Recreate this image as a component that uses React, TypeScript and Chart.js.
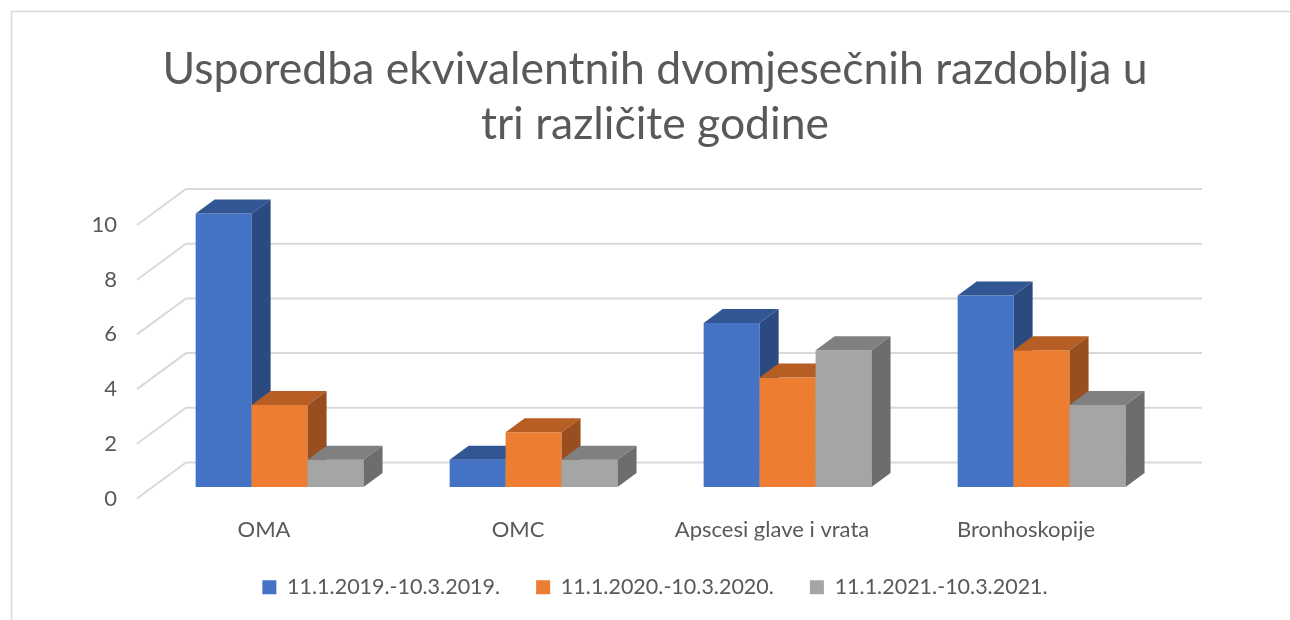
import React, { useEffect, useRef } from "react";
import { Chart, registerables } from "chart.js";

Chart.register(...registerables);

const titleLines = ["Usporedba ekvivalentnih dvomjesečnih razdoblja u", "tri različite godine"];
const categories = ["OMA", "OMC", "Apscesi glave i vrata", "Bronhoskopije"];
const seriesLabels = ["11.1.2019.-10.3.2019.", "11.1.2020.-10.3.2020.", "11.1.2021.-10.3.2021."];
const values2019 = [10, 1, 6, 7];
const values2020 = [3, 2, 4, 5];
const values2021 = [1, 1, 5, 3];
const yTickValues = [0, 2, 4, 6, 8, 10];

const frontColors = ["#4472C4", "#ED7D31", "#A5A5A5"];
const topColors = ["#325694", "#B65E23", "#808080"];
const sideColors = ["#2B4A80", "#984E1E", "#6D6D6D"];

const TEXT = "#595959";
const GRID = "#D9D9D9";
const FONT = "Lato, 'Open Sans', sans-serif";

// oblique projection offsets
const WALL_DX = 49;
const WALL_DY = -36;
const BAR_OFF_X = 15.6;
const BAR_OFF_Y = -11.5;
const BAR_DX = 19;
const BAR_DY = -14;

const framePlugin = {
  id: "frame",
  beforeDraw(chart: any) {
    const { ctx, width, height } = chart;
    ctx.save();
    ctx.strokeStyle = GRID;
    ctx.lineWidth = 1.5;
    ctx.beginPath();
    ctx.moveTo(11.5, height + 5);
    ctx.lineTo(11.5, 11.5);
    ctx.lineTo(width + 5, 11.5);
    ctx.stroke();
    ctx.restore();
  },
};

const threeDPlugin = {
  id: "threeD",
  beforeDatasetsDraw(chart: any) {
    const { ctx, chartArea, scales } = chart;
    const y = scales.y;
    ctx.save();
    ctx.strokeStyle = GRID;
    ctx.lineWidth = 2;
    yTickValues.forEach((v) => {
      const py = y.getPixelForValue(v);
      ctx.beginPath();
      ctx.moveTo(chartArea.left, py);
      ctx.lineTo(chartArea.left + WALL_DX, py + WALL_DY);
      ctx.lineTo(chartArea.right + WALL_DX, py + WALL_DY);
      ctx.stroke();
    });
    ctx.restore();
  },
  beforeDatasetDraw() {
    return false;
  },
  afterDatasetsDraw(chart: any) {
    const { ctx } = chart;
    const n = chart.data.labels.length;
    ctx.save();
    for (let i = 0; i < n; i++) {
      for (let d = 0; d < chart.data.datasets.length; d++) {
        const el = chart.getDatasetMeta(d).data[i];
        if (!el) continue;
        const p = el.getProps(["x", "y", "base", "width"], true);
        const left = p.x - p.width / 2 + BAR_OFF_X;
        const right = p.x + p.width / 2 + BAR_OFF_X;
        const top = Math.min(p.y, p.base) + BAR_OFF_Y;
        const bottom = Math.max(p.y, p.base) + BAR_OFF_Y;
        // front
        ctx.fillStyle = frontColors[d];
        ctx.fillRect(left, top, right - left, bottom - top);
        // top
        ctx.fillStyle = topColors[d];
        ctx.beginPath();
        ctx.moveTo(left, top);
        ctx.lineTo(right, top);
        ctx.lineTo(right + BAR_DX, top + BAR_DY);
        ctx.lineTo(left + BAR_DX, top + BAR_DY);
        ctx.closePath();
        ctx.fill();
        // side
        ctx.fillStyle = sideColors[d];
        ctx.beginPath();
        ctx.moveTo(right, top);
        ctx.lineTo(right + BAR_DX, top + BAR_DY);
        ctx.lineTo(right + BAR_DX, bottom + BAR_DY);
        ctx.lineTo(right, bottom);
        ctx.closePath();
        ctx.fill();
      }
    }
    ctx.restore();
  },
};

export default function App() {
  const canvasRef = useRef<HTMLCanvasElement | null>(null);

  useEffect(() => {
    if (!canvasRef.current) return;
    const chart = new Chart(canvasRef.current, {
      type: "bar",
      data: {
        labels: categories,
        datasets: [
          { label: seriesLabels[0], data: values2019, backgroundColor: frontColors[0] },
          { label: seriesLabels[1], data: values2020, backgroundColor: frontColors[1] },
          { label: seriesLabels[2], data: values2021, backgroundColor: frontColors[2] },
        ],
      },
      options: {
        animation: false,
        responsive: true,
        maintainAspectRatio: false,
        layout: { padding: { left: 20, right: 0, top: 0, bottom: 12 } },
        datasets: {
          bar: { categoryPercentage: 0.661, barPercentage: 1 },
        },
        plugins: {
          tooltip: { enabled: false },
          title: {
            display: true,
            text: titleLines,
            color: TEXT,
            font: { family: FONT, size: 44.5, weight: "normal", lineHeight: 55 / 44.5 },
            padding: { top: 42, bottom: 73 },
          },
          legend: {
            position: "bottom",
            labels: {
              color: TEXT,
              font: { family: FONT, size: 21.5 },
              boxWidth: 14,
              boxHeight: 14,
              padding: 36,
            },
          },
        },
        scales: {
          x: {
            grid: { display: false, drawTicks: false },
            border: { display: false },
            ticks: {
              color: TEXT,
              font: { family: FONT, size: 22 },
              padding: 18,
              maxRotation: 0,
              autoSkip: false,
            },
            afterFit: (s: any) => {
              s.height = 42;
            },
          },
          y: {
            min: 0,
            max: 10,
            grid: { display: false, drawTicks: false },
            border: { display: false },
            ticks: {
              stepSize: 2,
              color: TEXT,
              font: { family: FONT, size: 22 },
              padding: 20,
            },
            afterFit: (s: any) => {
              s.width = 117;
            },
          },
          yRightSpace: {
            type: "linear",
            position: "right",
            display: true,
            grid: { display: false, drawTicks: false },
            border: { display: false },
            ticks: { display: false },
            afterFit: (s: any) => {
              s.width = 137;
            },
          },
        },
      },
      plugins: [framePlugin, threeDPlugin],
    } as any);
    return () => chart.destroy();
  }, []);

  return (
    <div style={{ position: "fixed", left: 0, top: 0, width: 1290, height: 620, background: "#fff" }}>
      <canvas ref={canvasRef} />
    </div>
  );
}
